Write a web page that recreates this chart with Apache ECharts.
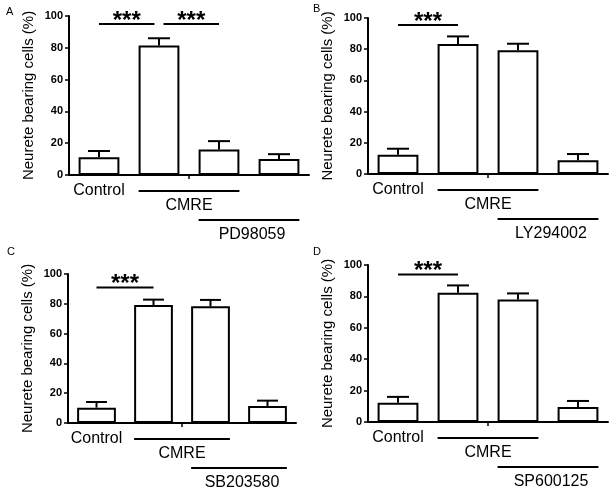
<!DOCTYPE html>
<html>
<head>
<meta charset="utf-8">
<script src="https://cdn.jsdelivr.net/npm/echarts@6/dist/echarts.min.js"></script>
<style>
html,body{margin:0;padding:0;background:#fff;}
#chart{width:615px;height:496px;}
</style>
</head>
<body>
<div id="chart"></div>
<script>
// ---- data ----
const categories = ['Control', 'CMRE', 'CMRE + inhibitor', 'Inhibitor'];
const panelLetters = ['A', 'B', 'C', 'D'];
const inhibitors = ['PD98059', 'LY294002', 'SB203580', 'SP600125'];
const yAxisTitle = 'Neurete bearing cells (%)';
const yMin = 0, yMax = 100, yInterval = 20;

const meanA = [11.1, 81.5, 16.1, 10.1];
const semA  = [4.0, 4.5, 5.2, 3.0];
const meanB = [12.4, 83.3, 79.3, 8.8];
const semB  = [3.8, 4.9, 4.2, 4.0];
const meanC = [10.3, 79.2, 78.3, 11.4];
const semC  = [3.8, 3.6, 4.3, 3.6];
const meanD = [12.3, 82.3, 78.1, 9.6];
const semD  = [3.7, 4.7, 3.8, 3.8];

const sigLabel = '***';
const sigA = [[0, 1], [1, 2]];
const sigB = [[0, 1]];
const sigC = [[0, 1]];
const sigD = [[0, 1]];
const sigLevel = [95, 95.5, 91, 94];

// group labels under the x axis: [name, firstCategory, lastCategory, tier, hasLine]
const groupControl = ['Control', 0, 0, 0, false];
const groupCMRE = ['CMRE', 1, 2, 0, true];
// inhibitor group spans categories 2..3 on tier 1
const inhibitorSpan = [2, 3];

// ---- layout / style ----
const FONT = '"Liberation Sans", Arial, sans-serif';
const grids = [
  {left: 69, top: 16, width: 240, height: 159},
  {left: 368, top: 18, width: 240, height: 156},
  {left: 68, top: 274, width: 228, height: 149},
  {left: 368, top: 265, width: 240, height: 157}
];
const letterPos = [[6, 6], [313, 3], [7, 246], [313, 246]];
const BAR_RATIO = 0.68;

const means = [meanA, meanB, meanC, meanD];
const sems = [semA, semB, semC, semD];
const sigs = [sigA, sigB, sigC, sigD];

const option = {
  backgroundColor: '#fff',
  animation: false,
  title: panelLetters.map((t, i) => ({
    text: t, left: letterPos[i][0], top: letterPos[i][1], padding: 0,
    textStyle: {fontFamily: FONT, fontSize: 11, fontWeight: 'normal', color: '#000'}
  })),
  grid: grids,
  xAxis: grids.map((g, i) => ({
    type: 'category', gridIndex: i, data: categories,
    axisLine: {lineStyle: {color: '#000', width: 2}},
    axisTick: {show: false},
    axisLabel: {show: false},
    splitLine: {show: false}
  })),
  yAxis: grids.map((g, i) => ({
    type: 'value', gridIndex: i, min: yMin, max: yMax, interval: yInterval,
    name: yAxisTitle, nameLocation: 'middle', nameGap: 33, nameRotate: 90,
    nameTextStyle: {fontFamily: FONT, fontSize: 15, color: '#000'},
    axisLine: {show: true, lineStyle: {color: '#000', width: 2}},
    axisTick: {show: true, length: 4, lineStyle: {color: '#000', width: 1.5}},
    axisLabel: {fontFamily: FONT, fontSize: 11, fontWeight: 'bold', color: '#000', margin: 6},
    splitLine: {show: false}
  })),
  series: []
};

grids.forEach((g, p) => {
  const mean = means[p], sem = sems[p];
  // bars
  option.series.push({
    type: 'bar', xAxisIndex: p, yAxisIndex: p, data: mean,
    barWidth: (BAR_RATIO * 100) + '%',
    itemStyle: {color: '#fff', borderColor: '#000', borderWidth: 2},
    z: 2
  });
  // error bars (upper only)
  option.series.push({
    type: 'custom', xAxisIndex: p, yAxisIndex: p, z: 3,
    data: mean.map((m, i) => [i, m, m + sem[i]]),
    renderItem: function (params, api) {
      const lo = api.coord([api.value(0), api.value(1)]);
      const hi = api.coord([api.value(0), api.value(2)]);
      const half = api.size([1, 0])[0] * BAR_RATIO * 0.27;
      const st = {stroke: '#000', lineWidth: 2};
      return {type: 'group', children: [
        {type: 'line', shape: {x1: lo[0], y1: lo[1], x2: hi[0], y2: hi[1]}, style: st},
        {type: 'line', shape: {x1: hi[0] - half, y1: hi[1], x2: hi[0] + half, y2: hi[1]}, style: st}
      ]};
    }
  });
  // significance brackets
  const sig = sigs[p];
  option.series.push({
    type: 'custom', xAxisIndex: p, yAxisIndex: p, z: 4, clip: false,
    data: sig.map(s => [s[0], s[1], sigLevel[p]]),
    renderItem: function (params, api) {
      const a = api.value(0), b = api.value(1);
      const pa = api.coord([a, api.value(2)]);
      const pb = api.coord([b, api.value(2)]);
      const shares = (idx) => sig.some((s, k) => k !== params.dataIndex && (s[0] === idx || s[1] === idx));
      const x1 = pa[0] + (shares(a) ? 4.5 : 0);
      const x2 = pb[0] - (shares(b) ? 4.5 : 0);
      return {type: 'group', children: [
        {type: 'line', shape: {x1: x1, y1: pa[1], x2: x2, y2: pa[1]}, style: {stroke: '#000', lineWidth: 2}},
        {type: 'text', style: {text: sigLabel, x: (x1 + x2) / 2, y: pa[1] - 3,
          align: 'center', verticalAlign: 'middle',
          font: 'bold 24px ' + FONT, fill: '#000'}}
      ]};
    }
  });
  // group labels under the axis + middle tick
  const groups = [groupControl, groupCMRE, [inhibitors[p], inhibitorSpan[0], inhibitorSpan[1], 1, true]];
  option.series.push({
    type: 'custom', xAxisIndex: p, yAxisIndex: p, z: 4, clip: false,
    data: groups.map((gr, k) => [gr[1], gr[2], gr[3], gr[4] ? 1 : 0, k]),
    renderItem: function (params, api) {
      const gr = groups[params.dataIndex];
      const s = api.coord([api.value(0), 0]);
      const e = api.coord([api.value(1), 0]);
      const band = api.size([1, 0])[0];
      const bw = band * BAR_RATIO;
      const tierOff = 16 + 29 * api.value(2);
      const y0 = s[1];
      const children = [];
      const cx = (s[0] + e[0]) / 2;
      if (api.value(3)) {
        children.push({type: 'line', shape: {x1: s[0] - bw / 2, y1: y0 + tierOff, x2: e[0] + bw / 2, y2: y0 + tierOff},
          style: {stroke: '#000', lineWidth: 2}});
        children.push({type: 'text', style: {text: gr[0], x: cx + (api.value(2) ? 3 : 0), y: y0 + tierOff + 15,
          align: 'center', verticalAlign: 'middle', font: '16px ' + FONT, fill: '#000'}});
      } else {
        children.push({type: 'text', style: {text: gr[0], x: cx, y: y0 + tierOff,
          align: 'center', verticalAlign: 'middle', font: '16px ' + FONT, fill: '#000'}});
      }
      if (params.dataIndex === 0) {
        // single centre tick of the x axis
        const mid = api.coord([1, 0])[0] + band / 2;
        children.push({type: 'line', shape: {x1: mid, y1: y0, x2: mid, y2: y0 + 4}, style: {stroke: '#000', lineWidth: 1.5}});
      }
      return {type: 'group', children: children};
    }
  });
});

const chart = echarts.init(document.getElementById('chart'), null, {renderer: 'canvas'});
chart.setOption(option);
</script>
</body>
</html>
